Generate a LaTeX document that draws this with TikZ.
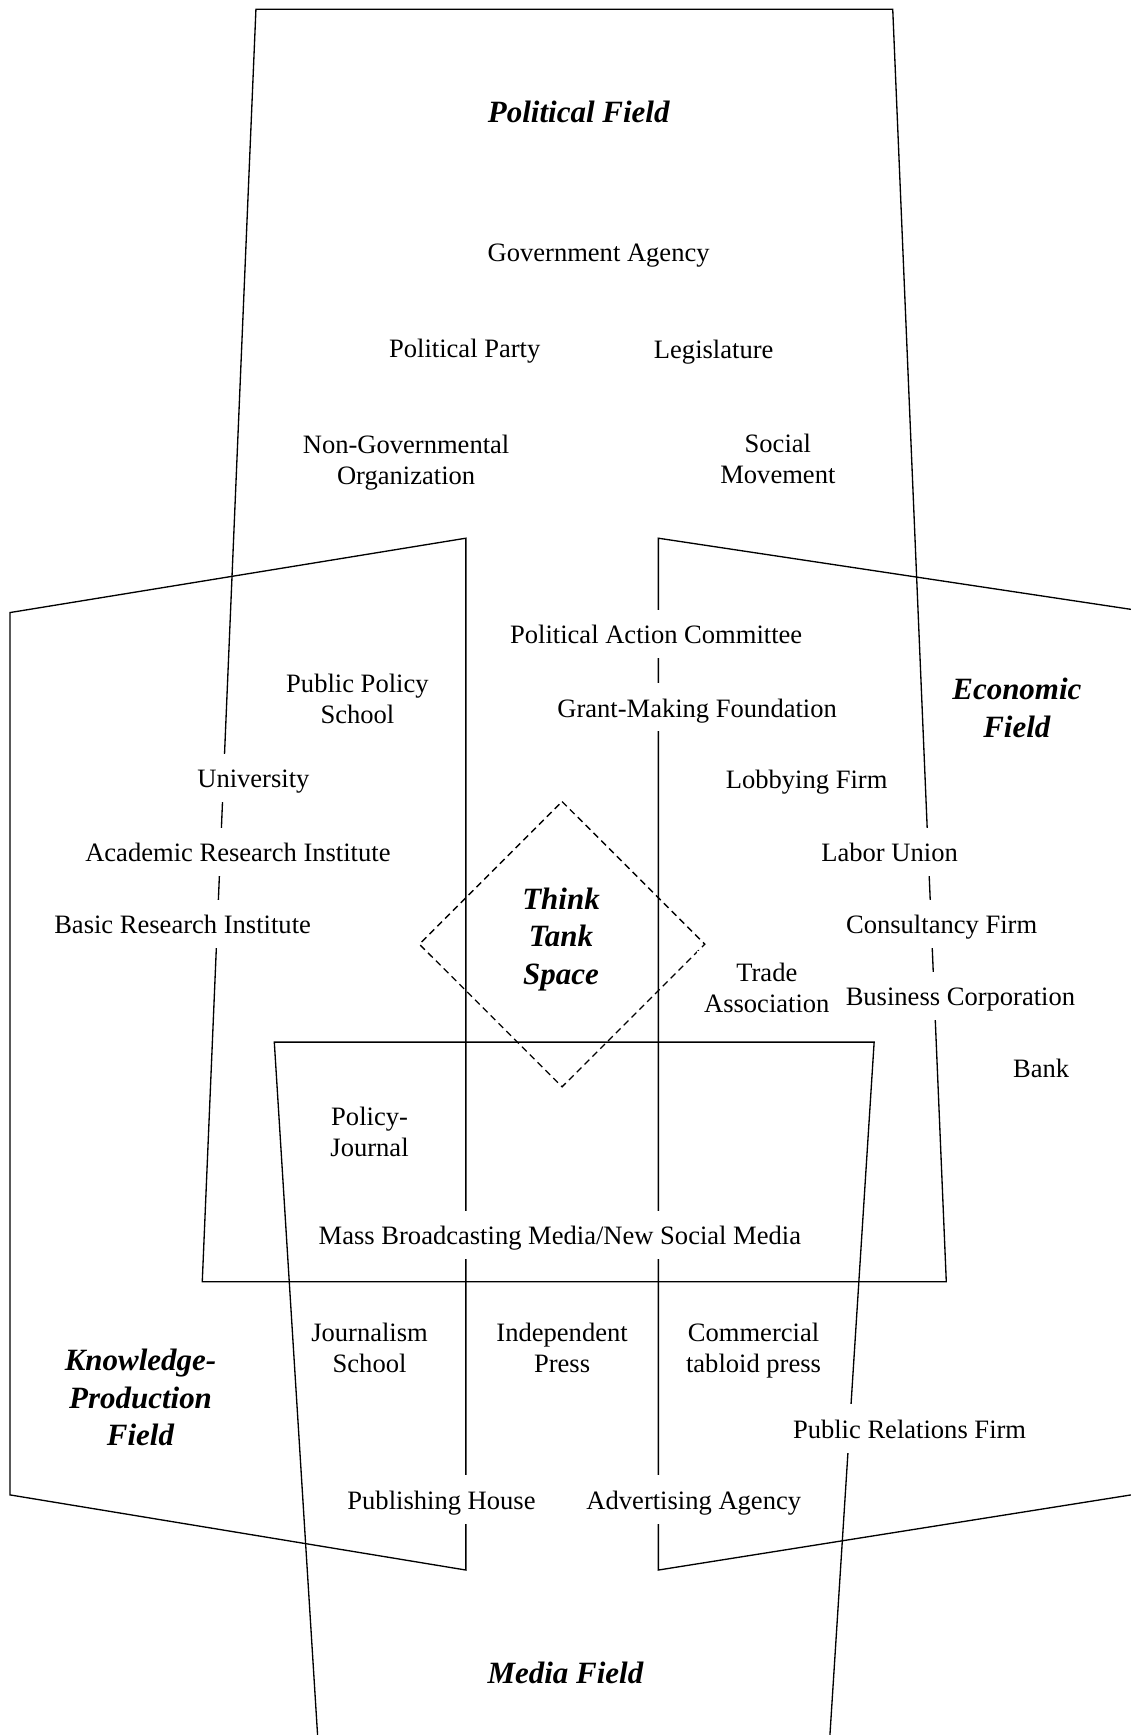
\documentclass[tikz,border=0pt]{standalone}
\usepackage{fontspec}
\setmainfont{Liberation Serif}
\begin{document}
\begin{tikzpicture}[x=0.5pt,y=-0.5pt,
  fieldline/.style={draw=black,line width=0.6pt,line join=miter},
  ttline/.style={draw=black,line width=0.6pt,dash pattern=on 3pt off 2pt},
  lbl/.style={font=\fontsize{12}{14}\selectfont,align=center,fill=white,inner xsep=3pt,inner ysep=5.5pt},
  one/.style={text height=10pt,text depth=1pt},
  fld/.style={font=\fontsize{14}{17}\selectfont\bfseries\itshape,align=center,inner sep=2pt}]
\useasboundingbox (0,0) rectangle (1022,1568);
\begin{scope}
\clip (0,0) rectangle (1022,1568);
% Political field
\draw[fieldline] (231.3,8.4) -- (806.8,8.4) -- (855.2,1158.3) -- (182.8,1158.3) -- cycle;
% Knowledge-production field
\draw[fieldline] (421,486.4) -- (9,553.6) -- (9,1351) -- (421,1418.9) -- cycle;
% Economic field
\draw[fieldline] (1060,556.4) -- (595,486.4) -- (595,1418.9) -- (1060,1345);
% Media field
\draw[fieldline] (289,1600) -- (247.9,941.8) -- (790,941.8) -- (748,1600);
% Think tank space
\draw[ttline] (508,724.4) -- (637,853.3) -- (508,982.2) -- (379,853.3) -- cycle;
\end{scope}
% Field titles
\node[fld] (pf) at (523,101) {Political Field};
\node[fld] (ef) at (919,640) {Economic\\Field};
\node[fld] (tts) at (507,849) {Think\\Tank\\Space};
\node[fld] (kpf) at (127,1263) {Knowledge-\\Production\\Field};
\node[fld] (mf) at (511,1512) {Media Field};
% Actors
\node[lbl,one] (ga) at (541,227) {Government Agency};
\node[lbl,one] (pp) at (420,314) {Political Party};
\node[lbl,one] (leg) at (645,315) {Legislature};
\node[lbl] (ngo) at (367,418) {Non-Governmental\\Organization};
\node[lbl] (sm) at (703,415) {Social\\Movement};
\node[lbl,one] (pac) at (593,573) {Political Action Committee};
\node[lbl] (pps) at (323,632) {Public Policy\\School};
\node[lbl,one] (gmf) at (630,639) {Grant-Making Foundation};
\node[lbl,one] (uni) at (229,703) {University};
\node[lbl,one] (lob) at (729,704) {Lobbying Firm};
\node[lbl,one] (ari) at (215,770) {Academic Research Institute};
\node[lbl,one] (lu) at (804,770) {Labor Union};
\node[lbl,one] (bri) at (165,835) {Basic Research Institute};
\node[lbl,one] (cf) at (851,835) {Consultancy Firm};
\node[lbl] (ta) at (693,893) {Trade\\Association};
\node[lbl,one] (bc) at (868,900) {Business Corporation};
\node[lbl,one] (bank) at (941,965) {Bank};
\node[lbl] (pj) at (334,1023) {Policy-\\Journal};
\node[lbl,one] (mb) at (506,1116) {Mass Broadcasting Media/New Social Media};
\node[lbl] (js) at (334,1218) {Journalism\\School};
\node[lbl] (ip) at (508,1218) {Independent\\Press};
\node[lbl] (ctp) at (681,1221) {Commercial\\tabloid press};
\node[lbl,one] (prf) at (822,1291) {Public Relations Firm};
\node[lbl,one] (ph) at (399,1355) {Publishing House};
\node[lbl,one] (aa) at (627,1355) {Advertising Agency};
\end{tikzpicture}
\end{document}
